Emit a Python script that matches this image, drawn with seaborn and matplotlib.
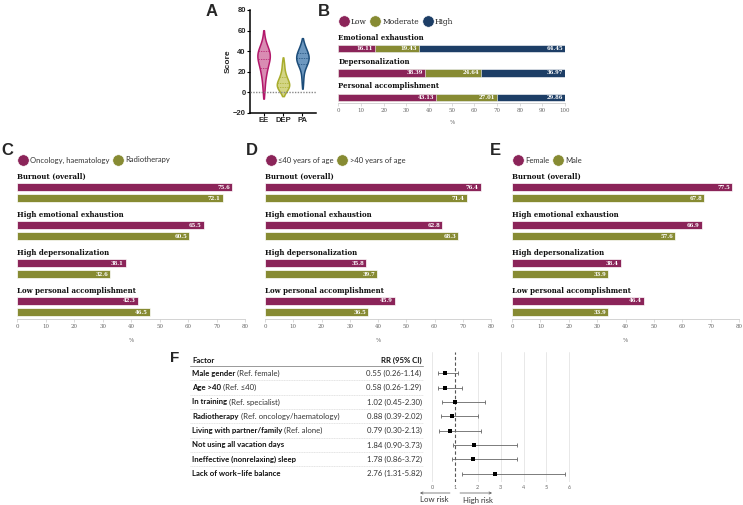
import numpy as np
import pandas as pd
import matplotlib
matplotlib.use("Agg")
import matplotlib.pyplot as plt
import seaborn as sns
from matplotlib.lines import Line2D
from matplotlib.transforms import blended_transform_factory

# ---------------- data ----------------
violin_labels = ["EE", "DEP", "PA"]
ee_scores = [0, 6, 11, 15, 18, 20, 22, 23, 25, 27, 29, 30, 31, 32, 32,
             33, 34, 35, 36, 37, 38, 39, 40, 40, 41, 42, 43, 45, 48, 54]
dep_scores = [0, 1, 2, 3, 3, 4, 5, 5, 6, 6, 7, 7, 8, 8, 9,
              9, 10, 10, 11, 12, 13, 14, 15, 16, 17, 19, 21, 24, 27, 30]
pa_scores = [8, 14, 18, 22, 24, 26, 27, 27, 28, 29, 30, 31, 32, 32, 33,
             33, 34, 35, 35, 36, 37, 38, 38, 39, 40, 41, 42, 44, 46, 48]

b_dims = ["Emotional exhaustion", "Depersonalization", "Personal accomplishment"]
b_levels = ["Low", "Moderate", "High"]
b_low = [16.11, 38.39, 43.13]
b_mod = [19.43, 24.64, 27.01]
b_high = [64.45, 36.97, 29.86]

outcomes = ["Burnout (overall)", "High emotional exhaustion",
            "High depersonalization", "Low personal accomplishment"]
c_groups = ["Oncology, haematology", "Radiotherapy"]
c_g1 = [75.6, 65.5, 38.1, 42.3]
c_g2 = [72.1, 60.5, 32.6, 46.5]
d_groups = ["≤40 years of age", ">40 years of age"]
d_g1 = [76.4, 62.8, 35.8, 45.9]
d_g2 = [71.4, 68.3, 39.7, 36.5]
e_groups = ["Female", "Male"]
e_g1 = [77.5, 66.9, 38.4, 46.4]
e_g2 = [67.8, 57.6, 33.9, 33.9]

f_factor_bold = ["Male gender", "Age >40", "In training", "Radiotherapy",
                 "Living with partner/family", "Not using all vacation days",
                 "Ineffective (nonrelaxing) sleep", "Lack of work\u2013life balance"]
f_factor_ref = [" (Ref. female)", " (Ref. \u226440)", " (Ref. specialist)",
                " (Ref. oncology/haematology)", " (Ref. alone)", "", "", ""]
f_rr = [0.55, 0.58, 1.02, 0.88, 0.79, 1.84, 1.78, 2.76]
f_lo = [0.26, 0.26, 0.45, 0.39, 0.30, 0.90, 0.86, 1.31]
f_hi = [1.14, 1.29, 2.30, 2.02, 2.13, 3.73, 3.72, 5.82]
f_ticks = [0, 1, 2, 3, 4, 5, 6]

# ---------------- setup ----------------
W, H = 743, 505
sns.set_theme(style="white")
plt.rcParams["font.family"] = ["DejaVu Sans"]

MAG, OLV, NAVY = "#8b2459", "#878b33", "#1d3e66"
SERIF = "DejaVu Serif"
SANS = ["Lato", "DejaVu Sans"]
ARIAL = "Liberation Sans"
TICKC = "#666666"

fig = plt.figure(figsize=(W / 100, H / 100), dpi=100)


def px_axes(l, t, r, b):
    ax = fig.add_axes([l / W, 1 - b / H, (r - l) / W, (b - t) / H])
    ax.patch.set_alpha(0)
    return ax


def fig_text(x, y, s, **kw):
    fig.text(x / W, 1 - y / H, s, **kw)


def legend_at(ax, x, y, labels, colors, family, size, color, colsp=0.6):
    handles = [Line2D([], [], marker="o", ls="", markersize=8.2,
                      markerfacecolor=c, markeredgecolor="white",
                      markeredgewidth=0.4) for c in colors]
    ax.legend(handles, labels, loc="center left",
              bbox_to_anchor=(x / W, 1 - y / H), bbox_transform=fig.transFigure,
              ncol=len(labels), frameon=False, handlelength=1.5,
              handletextpad=0.2, columnspacing=colsp, borderpad=0,
              borderaxespad=0, prop={"family": family, "size": size},
              labelcolor=color)


def style_pct_axis(ax, xmax, step):
    ax.set_xlim(0, xmax)
    ax.set_xticks(np.arange(0, xmax + 1, step))
    ax.set_yticks([])
    ax.set_xlabel("")
    ax.set_ylabel("")
    for s in ["top", "right", "left"]:
        ax.spines[s].set_visible(False)
    ax.spines["bottom"].set_color("#cccccc")
    ax.spines["bottom"].set_linewidth(0.6)
    ax.tick_params(axis="x", length=2, width=0.5, color="#cccccc", pad=1.5,
                   labelsize=4, labelcolor=TICKC, bottom=True)
    for lab in ax.get_xticklabels():
        lab.set_family(SERIF)


# ---------------- panel letters ----------------
for letter, x, y, fs in [("A", 206, 4, 12), ("B", 318, 4, 12), ("C", 1, 143, 12),
                         ("D", 246, 143, 12), ("E", 490, 143, 12), ("F", 170, 351, 11)]:
    fig_text(x, y, letter, fontsize=fs, fontweight="bold", family=ARIAL,
             va="top", ha="left")

# ---------------- panel A ----------------
axA = px_axes(250, 10, 316, 112.7)
dfA = pd.DataFrame({
    "scale": ["EE"] * len(ee_scores) + ["DEP"] * len(dep_scores) + ["PA"] * len(pa_scores),
    "score": ee_scores + dep_scores + pa_scores})
fills = ["#d98cb3", "#d3d585", "#6d98c0"]
edges = ["#b3186b", "#a9ad2d", "#1c4d7a"]
sns.violinplot(data=dfA, x="scale", y="score", hue="scale", order=violin_labels,
               hue_order=violin_labels, palette=fills, saturation=1, inner="quart",
               density_norm="width", width=0.64, cut=1, linewidth=1.1,
               legend=False, ax=axA)
for coll in axA.collections:
    try:
        xm = np.mean(coll.get_paths()[0].vertices[:, 0])
        coll.set_edgecolor(edges[int(round(xm))])
    except Exception:
        pass
for ln in axA.lines:
    k = int(round(np.mean(ln.get_xdata())))
    ln.set_color(edges[k])
    ln.set_linestyle((0, (2, 1.5)))
    ln.set_linewidth(0.5)
axA.axhline(0, color="#888888", ls=(0, (1, 1)), lw=1.0, zorder=3)
axA.set_ylim(-20, 80)
axA.set_yticks(range(-20, 81, 20))
axA.set_xlim(-0.7, 2.7)
axA.set_xlabel("")
axA.set_ylabel("Score", fontsize=6, fontweight="bold", family=ARIAL, labelpad=1)
for s in ["top", "right"]:
    axA.spines[s].set_visible(False)
for s in ["left", "bottom"]:
    axA.spines[s].set_color("black")
    axA.spines[s].set_linewidth(1.1)
axA.tick_params(length=2, width=0.8, labelsize=5.5, pad=1, color="black",
                left=True, bottom=True)
for lab in axA.get_xticklabels() + axA.get_yticklabels():
    lab.set_fontweight("bold")
    lab.set_family(ARIAL)

# ---------------- panel B ----------------
axB = px_axes(338.3, 30, 565, 103)
cum_low = list(b_low)
cum_mod = [l + m for l, m in zip(b_low, b_mod)]
cum_all = [l + m + h for l, m, h in zip(b_low, b_mod, b_high)]
for vals, col in [(cum_all, NAVY), (cum_mod, OLV), (cum_low, MAG)]:
    sns.barplot(x=vals, y=b_dims, orient="h", color=col, saturation=1,
                width=0.31, edgecolor="white", linewidth=0.4, errorbar=None, ax=axB)
style_pct_axis(axB, 100, 10)
axB.set_ylim(2.235, -0.77)
for i in range(3):
    axB.text(0, i - 0.45, b_dims[i], ha="left", va="center", fontsize=5,
             fontweight="bold", family=SERIF, color="#111111")
    for end, val in zip([cum_low[i], cum_mod[i], cum_all[i]],
                        [b_low[i], b_mod[i], b_high[i]]):
        axB.text(end - 0.9, i, f"{val:.2f}", ha="right", va="center",
                 fontsize=3.8, fontweight="bold", family=SERIF, color="white")
legend_at(axB, 338, 22, b_levels, [MAG, OLV, NAVY], SERIF, 5.4, "#222222", colsp=0.4)
fig_text(452, 122, "%", fontsize=4, family=SERIF, color=TICKC, ha="center", va="center")


# ---------------- panels C, D, E ----------------
def group_panel(x0, x80, g1, g2, groups):
    ax = px_axes(x0, 170, x80, 319.3)
    df = pd.DataFrame({"outcome": outcomes * 2,
                       "group": [groups[0]] * 4 + [groups[1]] * 4,
                       "value": g1 + g2})
    sns.barplot(data=df, x="value", y="outcome", hue="group", hue_order=groups,
                orient="h", palette=[MAG, OLV], width=0.58, gap=0.28,
                saturation=1, legend=False, edgecolor="white", linewidth=0.5,
                errorbar=None, ax=ax)
    style_pct_axis(ax, 80, 10)
    ax.set_ylim(3.337, -0.595)
    for i, o in enumerate(outcomes):
        ax.text(0, i - 0.42, o, ha="left", va="center", fontsize=5,
                fontweight="bold", family=SERIF, color="#111111")
    for p in ax.patches:
        w = p.get_width()
        y = p.get_y() + p.get_height() / 2
        ax.text(w - 0.7, y, f"{w:.1f}", ha="right", va="center", fontsize=3.8,
                fontweight="bold", family=SERIF, color="white")
    legend_at(ax, x0, 160, groups, [MAG, OLV], SANS, 5.5, "#333333", colsp=0.4)
    fig_text((x0 + x80) / 2, 340, "%", fontsize=4, family=SERIF, color=TICKC,
             ha="center", va="center")
    return ax


group_panel(17.3, 245, c_g1, c_g2, c_groups)
group_panel(265, 491, d_g1, d_g2, d_groups)
group_panel(512, 739, e_g1, e_g2, e_groups)

# ---------------- panel F: table ----------------
ylimF = (7.586, -1.486)
rows = list(range(len(f_rr)))
axT = px_axes(188, 352, 424, 482)
axT.set_ylim(*ylimF)
axT.set_xlim(0, 1)
axT.axis("off")
trT = blended_transform_factory(axT.transAxes, axT.transData)
FS = 5.6
axT.text(0.017, -0.88, "Factor", transform=trT, ha="left", va="center",
         fontsize=FS, fontweight="bold", family=SANS, color="#111111")
axT.text(0.990, -0.88, "RR (95% CI)", transform=trT, ha="right", va="center",
         fontsize=FS, fontweight="bold", family=SANS, color="#111111")
axT.axhline(-0.5, 0.008, 0.995, color="#999999", lw=0.7)
for i in rows:
    t1 = axT.text(0.017, i, f_factor_bold[i], transform=trT, ha="left", va="center",
                  fontsize=FS, fontweight="bold", family=SANS, color="#111111")
    if f_factor_ref[i]:
        axT.annotate(f_factor_ref[i], xy=(1, 0.5), xycoords=t1, ha="left",
                     va="center", fontsize=FS, family=SANS, color="#333333")
    axT.text(0.990, i, f"{f_rr[i]:.2f} ({f_lo[i]:.2f}-{f_hi[i]:.2f})", transform=trT,
             ha="right", va="center", fontsize=FS, family=SANS, color="#333333")
    if i < len(rows) - 1:
        axT.axhline(i + 0.5, 0.008, 0.995, color="#d0d0d0", lw=0.4, ls=(0, (2, 1)))

# ---------------- panel F: forest ----------------
axF = px_axes(420, 352, 575, 482)
for v in f_ticks:
    if v != 1:
        axF.axvline(v, color="#e4e4e4", lw=0.6, zorder=0)
axF.axvline(1, color="#555555", lw=0.8, ls=(0, (3, 2)), zorder=1)
xerr = [[r - l for r, l in zip(f_rr, f_lo)], [h - r for h, r in zip(f_hi, f_rr)]]
axF.errorbar(f_rr, rows, xerr=xerr, fmt="none", ecolor="#666666", elinewidth=0.6,
             capsize=1.5, capthick=0.6, zorder=2)
sns.scatterplot(x=f_rr, y=rows, marker="s", color="black", s=10, linewidth=0,
                ax=axF, zorder=3)
axF.set_xlim(-0.524, 6.245)
axF.set_ylim(*ylimF)
axF.set_xticks(f_ticks)
axF.set_yticks([])
for s in axF.spines.values():
    s.set_visible(False)
axF.tick_params(axis="x", length=0, pad=2, labelsize=4, labelcolor=TICKC)
for lab in axF.get_xticklabels():
    lab.set_family(SANS)
axF.annotate("", xy=(420, H - 493), xytext=(450, H - 493), xycoords="figure pixels",
             textcoords="figure pixels", annotation_clip=False,
             arrowprops=dict(arrowstyle="->", lw=0.5, color="#555555",
                             shrinkA=0, shrinkB=0, mutation_scale=4))
axF.annotate("", xy=(492, H - 493), xytext=(460, H - 493), xycoords="figure pixels",
             textcoords="figure pixels", annotation_clip=False,
             arrowprops=dict(arrowstyle="->", lw=0.5, color="#555555",
                             shrinkA=0, shrinkB=0, mutation_scale=4))
fig_text(434, 500, "Low risk", fontsize=FS, family=SANS, color="#333333",
         ha="center", va="center")
fig_text(477.5, 500, "High risk", fontsize=FS, family=SANS, color="#333333",
         ha="center", va="center")

fig.savefig("out.png", dpi=100)
